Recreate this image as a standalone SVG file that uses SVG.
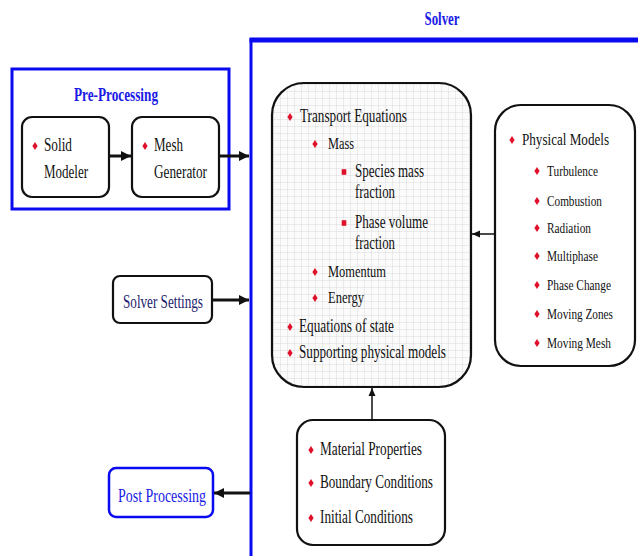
<svg xmlns="http://www.w3.org/2000/svg" width="638" height="556" viewBox="0 0 638 556">
<style>
text{font-family:"Liberation Serif","Times New Roman",serif;fill:#111;}
.t{font-size:18px;}
.s{font-size:16px;}
.p{font-size:16px;}
.ps{font-size:14.5px;}
.title{font-size:19px;font-weight:bold;fill:#1a1ae6;}
.box{fill:#fff;stroke:#111;stroke-width:2.2;}
.con{stroke:#111;stroke-width:3;fill:none;}
.thin{stroke:#111;stroke-width:1.5;fill:none;}
.blue{fill:none;stroke:#0a0af0;}
</style>
<defs>
<path id="d" d="M0,-4 L2.6,0 L0,4 L-2.6,0 Z" fill="#e0102a"/>
<rect id="sq" x="-2.3" y="-2.8" width="4.6" height="5.6" fill="#e0102a"/>
<marker id="ah" markerUnits="userSpaceOnUse" markerWidth="12" markerHeight="12" refX="10" refY="6" orient="auto">
<path d="M0,1 L10,6 L0,11 Z" fill="#111"/>
</marker>
<marker id="ahs" markerUnits="userSpaceOnUse" markerWidth="10" markerHeight="10" refX="8" refY="4" orient="auto">
<path d="M0,0.5 L8,4 L0,7.5 Z" fill="#111"/>
</marker>
<pattern id="grid" width="7" height="7" patternUnits="userSpaceOnUse">
<rect width="7" height="7" fill="#fbfbfb"/>
<path d="M7,0 L0,0 L0,7" fill="none" stroke="#cfcfcf" stroke-width="0.7"/>
</pattern>
</defs>
<rect width="638" height="556" fill="#fff"/>

<g id="solver">
<path class="blue" d="M251,556 L251,40 L638,40" stroke-width="3"/>
<line x1="249.5" y1="40" x2="638" y2="40" stroke="#0a0af0" stroke-width="5"/>
<text class="title" x="442" y="25" text-anchor="middle" textLength="35" lengthAdjust="spacingAndGlyphs">Solver</text>
</g>

<g id="pre-processing">
<rect x="12" y="69" width="217" height="140" fill="none" stroke="#0a0af0" stroke-width="3"/>
<text class="title" x="116" y="101" text-anchor="middle" textLength="84" lengthAdjust="spacingAndGlyphs">Pre-Processing</text>
</g>

<g id="solid-modeler">
<rect class="box" x="22" y="117" width="87" height="80" rx="10"/>
<use href="#d" x="35" y="146"/>
<text class="t" x="44" y="151" textLength="28" lengthAdjust="spacingAndGlyphs">Solid</text>
<text class="t" x="44" y="178" textLength="44" lengthAdjust="spacingAndGlyphs">Modeler</text>
</g>

<g id="mesh-generator">
<rect class="box" x="132" y="117" width="87" height="80" rx="10"/>
<use href="#d" x="145" y="146"/>
<text class="t" x="154" y="151" textLength="29" lengthAdjust="spacingAndGlyphs">Mesh</text>
<text class="t" x="154" y="178" textLength="53" lengthAdjust="spacingAndGlyphs">Generator</text>
</g>

<g id="transport">
<rect x="272" y="83" width="199" height="304" rx="32" fill="url(#grid)" stroke="#111" stroke-width="2.2"/>
<use href="#d" x="290" y="117"/>
<text class="t" x="300" y="122" textLength="107" lengthAdjust="spacingAndGlyphs">Transport Equations</text>
<use href="#d" x="315" y="144"/>
<text class="s" x="328" y="149" textLength="26" lengthAdjust="spacingAndGlyphs">Mass</text>
<use href="#sq" x="344" y="172"/>
<text class="t" x="355" y="177" textLength="69" lengthAdjust="spacingAndGlyphs">Species mass</text>
<text class="t" x="355" y="198" textLength="40" lengthAdjust="spacingAndGlyphs">fraction</text>
<use href="#sq" x="344" y="223"/>
<text class="t" x="355" y="228" textLength="73" lengthAdjust="spacingAndGlyphs">Phase volume</text>
<text class="t" x="355" y="249" textLength="40" lengthAdjust="spacingAndGlyphs">fraction</text>
<use href="#d" x="315" y="272"/>
<text class="s" x="328" y="277" textLength="58" lengthAdjust="spacingAndGlyphs">Momentum</text>
<use href="#d" x="315" y="298"/>
<text class="s" x="328" y="303" textLength="36" lengthAdjust="spacingAndGlyphs">Energy</text>
<use href="#d" x="290" y="327"/>
<text class="t" x="299" y="332" textLength="95" lengthAdjust="spacingAndGlyphs">Equations of state</text>
<use href="#d" x="290" y="353"/>
<text class="t" x="299" y="358" textLength="147" lengthAdjust="spacingAndGlyphs">Supporting physical models</text>
</g>

<g id="physical-models">
<rect class="box" x="495" y="105" width="140" height="261" rx="26"/>
<use href="#d" x="512" y="140"/>
<text class="p" x="522" y="145" textLength="87" lengthAdjust="spacingAndGlyphs">Physical Models</text>
<use href="#d" x="537" y="171"/>
<text class="ps" x="547" y="176" textLength="51" lengthAdjust="spacingAndGlyphs">Turbulence</text>
<use href="#d" x="537" y="201"/>
<text class="ps" x="547" y="206" textLength="55" lengthAdjust="spacingAndGlyphs">Combustion</text>
<use href="#d" x="537" y="228"/>
<text class="ps" x="547" y="233" textLength="44" lengthAdjust="spacingAndGlyphs">Radiation</text>
<use href="#d" x="537" y="256"/>
<text class="ps" x="547" y="261" textLength="51" lengthAdjust="spacingAndGlyphs">Multiphase</text>
<use href="#d" x="537" y="285"/>
<text class="ps" x="547" y="290" textLength="64" lengthAdjust="spacingAndGlyphs">Phase Change</text>
<use href="#d" x="537" y="314"/>
<text class="ps" x="547" y="319" textLength="66" lengthAdjust="spacingAndGlyphs">Moving Zones</text>
<use href="#d" x="537" y="343"/>
<text class="ps" x="547" y="348" textLength="64" lengthAdjust="spacingAndGlyphs">Moving Mesh</text>
</g>

<g id="solver-settings">
<rect class="box" x="113" y="276" width="99" height="47" rx="7"/>
<text class="t" x="163" y="308" text-anchor="middle" textLength="80" lengthAdjust="spacingAndGlyphs" style="fill:#23236e">Solver Settings</text>
</g>

<g id="post-processing">
<rect x="109" y="468" width="104" height="49" rx="7" fill="#fff" stroke="#0a0af0" stroke-width="2.5"/>
<text class="t" x="162" y="502" text-anchor="middle" textLength="88" lengthAdjust="spacingAndGlyphs" style="fill:#1a1ae6">Post Processing</text>
</g>

<g id="material">
<rect class="box" x="297" y="420" width="148" height="125" rx="16"/>
<use href="#d" x="311" y="450"/>
<text class="t" x="320" y="455" textLength="102" lengthAdjust="spacingAndGlyphs">Material Properties</text>
<use href="#d" x="311" y="483"/>
<text class="t" x="320" y="488" textLength="113" lengthAdjust="spacingAndGlyphs">Boundary Conditions</text>
<use href="#d" x="311" y="518"/>
<text class="t" x="320" y="523" textLength="93" lengthAdjust="spacingAndGlyphs">Initial Conditions</text>
</g>

<g id="connectors">
<line class="con" x1="109" y1="156" x2="131" y2="156" marker-end="url(#ah)"/>
<line class="con" x1="219" y1="156" x2="249" y2="156" marker-end="url(#ah)"/>
<line class="con" x1="212" y1="300" x2="249" y2="300" marker-end="url(#ah)"/>
<line class="con" x1="250" y1="493" x2="214" y2="493" marker-end="url(#ah)"/>
<line class="thin" x1="495" y1="234" x2="472" y2="234" stroke-width="2" marker-end="url(#ahs)"/>
<line class="thin" x1="372" y1="420" x2="372" y2="388" marker-end="url(#ahs)"/>
</g>
</svg>
